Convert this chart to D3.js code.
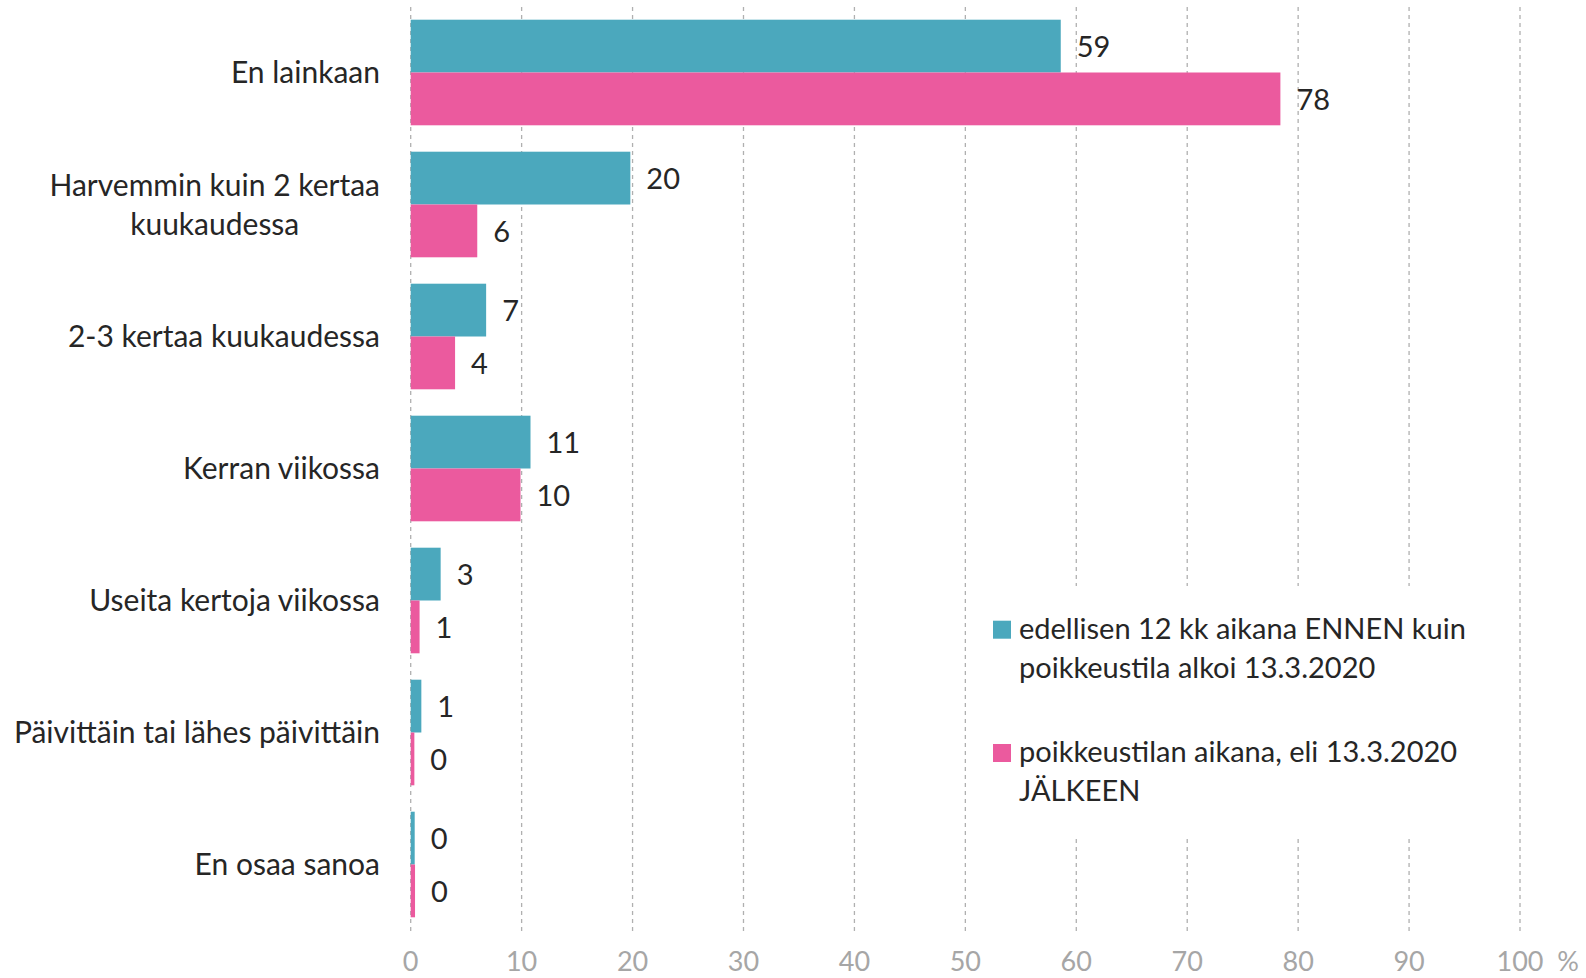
<!DOCTYPE html>
<html>
<head>
<meta charset="utf-8">
<script src="https://cdn.jsdelivr.net/npm/d3@7"></script>
<style>
  body { margin: 0; background: #fff; }
  text { font-family: Lato, "Open Sans", sans-serif; }
</style>
</head>
<body>
<div id="chart"></div>
<script>
// data (percent)
var categories = ["En lainkaan", "Harvemmin kuin 2 kertaa\nkuukaudessa", "2-3 kertaa kuukaudessa",
                  "Kerran viikossa", "Useita kertoja viikossa", "Päivittäin tai lähes päivittäin", "En osaa sanoa"];
var seriesNames = ["edellisen 12 kk aikana ENNEN kuin\npoikkeustila alkoi 13.3.2020",
                   "poikkeustilan aikana, eli 13.3.2020\nJÄLKEEN"];
var before = [58.6, 19.8, 6.8, 10.8, 2.7, 0.96, 0.36];
var after = [78.4, 6.0, 4.0, 9.9, 0.8, 0.33, 0.39];
var colors = ["#4ba8bd", "#eb5a9e"];
var xTicks = [0, 10, 20, 30, 40, 50, 60, 70, 80, 90, 100];

var width = 1586, height = 978;
var svg = d3.select("#chart").append("svg")
    .attr("width", width)
    .attr("height", height);

var x = d3.scaleLinear().domain([0, 100]).range([410.7, 1520]);
var y = d3.scaleBand().domain(categories).range([6.5, 930.5])
    .paddingInner(0.2).paddingOuter(0.1);
var ySub = d3.scaleBand().domain([0, 1]).range([0, y.bandwidth()]);

// dashed grid lines
svg.append("g")
  .selectAll("line")
  .data(xTicks)
  .enter().append("line")
    .attr("x1", function(d) { return x(d); })
    .attr("x2", function(d) { return x(d); })
    .attr("y1", 7)
    .attr("y2", 932)
    .attr("stroke", "#b0b0b0")
    .attr("stroke-width", 1.3)
    .attr("stroke-dasharray", "4,4");

// tick labels
svg.append("g")
  .selectAll("text")
  .data(xTicks)
  .enter().append("text")
    .attr("x", function(d) { return x(d); })
    .attr("y", 971)
    .attr("text-anchor", "middle")
    .style("font-size", "27px")
    .attr("fill", "#a6a6a6")
    .text(function(d) { return d; });

svg.append("text")
    .attr("x", 1568)
    .attr("y", 971)
    .attr("text-anchor", "middle")
    .style("font-size", "27px")
    .attr("fill", "#a6a6a6")
    .text("%");

// bars
var rows = categories.map(function(c, i) {
  return [{cat: c, s: 0, v: before[i]}, {cat: c, s: 1, v: after[i]}];
});
var groups = svg.append("g")
  .selectAll("g")
  .data(rows)
  .enter().append("g")
    .attr("transform", function(d) { return "translate(0," + y(d[0].cat) + ")"; });

groups.selectAll("rect")
  .data(function(d) { return d; })
  .enter().append("rect")
    .attr("x", x(0))
    .attr("y", function(d) { return ySub(d.s); })
    .attr("width", function(d) { return x(d.v) - x(0); })
    .attr("height", ySub.bandwidth())
    .attr("fill", function(d) { return colors[d.s]; });

groups.selectAll("text")
  .data(function(d) { return d; })
  .enter().append("text")
    .attr("x", function(d) { return x(d.v) + 16; })
    .attr("y", function(d) { return ySub(d.s) + ySub.bandwidth() / 2; })
    .attr("dy", "0.38em")
    .style("font-size", "29px")
    .attr("fill", "#262626")
    .text(function(d) { return d3.format(".0f")(d.v); });

// category labels, lines centred within a right-aligned block
var lineH = 38.5;
categories.forEach(function(c) {
  var lines = c.split("\n");
  var t = svg.append("text")
      .style("font-size", "30px")
      .attr("fill", "#262626");
  lines.forEach(function(l, i) {
    t.append("tspan").text(l);
  });
  var maxW = 0;
  t.selectAll("tspan").each(function() { maxW = Math.max(maxW, this.getComputedTextLength()); });
  var cy = y(c) + y.bandwidth() / 2;
  t.attr("text-anchor", "middle");
  t.selectAll("tspan")
    .attr("x", 380 - maxW / 2)
    .attr("y", function(d, i) { return cy + (i - (lines.length - 1) / 2) * lineH; })
    .attr("dy", "0.36em");
});

// legend with white backing over the grid
var legend = svg.append("g");
legend.append("rect")
    .attr("x", 975).attr("y", 586)
    .attr("width", 530).attr("height", 250)
    .attr("fill", "#fff");

var legendTop = [620.7, 744];
seriesNames.forEach(function(name, i) {
  legend.append("rect")
      .attr("x", 993).attr("y", legendTop[i])
      .attr("width", 18).attr("height", 18)
      .attr("fill", colors[i]);
  var t = legend.append("text")
      .style("font-size", "29px")
      .attr("fill", "#262626");
  name.split("\n").forEach(function(l, j) {
    t.append("tspan")
      .attr("x", 1019)
      .attr("y", legendTop[i] + 18 + j * 39)
      .text(l);
  });
});
</script>
</body>
</html>
